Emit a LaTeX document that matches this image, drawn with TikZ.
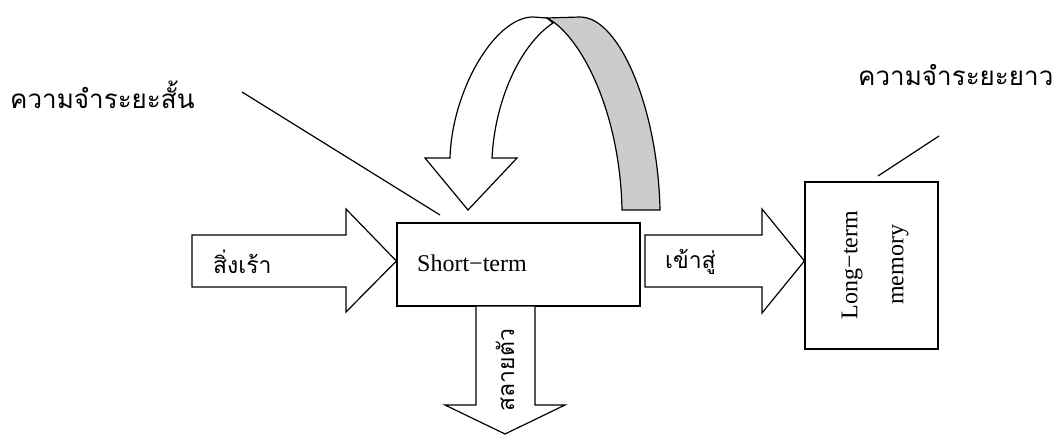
\documentclass[tikz,border=0pt]{standalone}
\usepackage{fontspec}
\setmainfont{Liberation Serif}
\newfontfamily\thaifont[Script=Thai]{Loma}
\tikzset{
  outline/.style={draw=black, line width=1.2pt, line join=miter},
  blockarrow/.style={outline, fill=white},
  backband/.style={outline, fill=black!20},
  box/.style={outline, fill=white, rectangle, inner sep=0pt},
  thailabel/.style={font=\thaifont\fontsize{26}{30}\selectfont, inner sep=0pt},
  thaismall/.style={font=\thaifont\fontsize{23}{27}\selectfont, inner sep=0pt},
  engtext/.style={font=\fontsize{24}{46}\selectfont, inner sep=0pt},
  leader/.style={draw=black, line width=1.2pt}
}
\begin{document}
\begin{tikzpicture}[x=1pt,y=-1pt]
\useasboundingbox (0,0) rectangle (1056,435);

% boxes
\node[box, minimum width=243pt, minimum height=83pt] (st) at (518.5,264.5) {};
\node[box, minimum width=133pt, minimum height=167pt] (lt) at (871.5,265.5) {};

% input arrow
\draw[blockarrow] (192,235) -- (346,235) -- (346,209) -- (st.west |- 0,261) -- (346,312) -- (346,287) -- (192,287) -- cycle;
% output arrow
\draw[blockarrow] (645,235) -- (762,235) -- (762,209) -- (lt.west |- 0,261) -- (762,313) -- (762,287) -- (645,287) -- cycle;
% down arrow
\draw[blockarrow] (st.south -| 476,0) -- (476,405) -- (445,405) -- (505,434) -- (565,405) -- (535,405) -- (st.south -| 535,0);

% curved arrow: front (white) part
\draw[blockarrow] (425,158) -- (450,158) .. controls (452,90) and (495,17) .. (533,17) -- (547,18) -- (553,23)
  .. controls (520,45) and (495,100) .. (492,158) -- (517,158) -- (468,210) -- cycle;
% curved arrow: back (gray) band
\draw[backband] (547,18) -- (580,17) .. controls (620,17) and (658,110) .. (660,210) -- (622,210)
  .. controls (620,110) and (580,35) .. (547,18) -- cycle;

% labels
\node[engtext, anchor=west] (sttext) at (417,263) {Short\textminus term};
\node[engtext, rotate=90, align=center] (lttext) at (875,265) {Long\textminus term\\memory};
\node[thaismall, anchor=west] (stim) at (213,262) {สิ่งเร้า};
\node[thaismall, anchor=west] (enter) at (665,262) {เข้าสู่};
\node[thaismall, rotate=90] (decay) at (505,370) {สลายตัว};
\node[thailabel, anchor=west] (stm) at (10,95) {ความจำระยะสั้น};
\node[thailabel, anchor=west] (ltm) at (858,75) {ความจำระยะยาว};

% leader lines
\coordinate (stmA) at (242,92);
\coordinate (stmB) at (440,215);
\coordinate (ltmA) at (939,136);
\coordinate (ltmB) at (878,176);
\draw[leader] (stmA) -- (stmB);
\draw[leader] (ltmA) -- (ltmB);
\end{tikzpicture}
\end{document}
